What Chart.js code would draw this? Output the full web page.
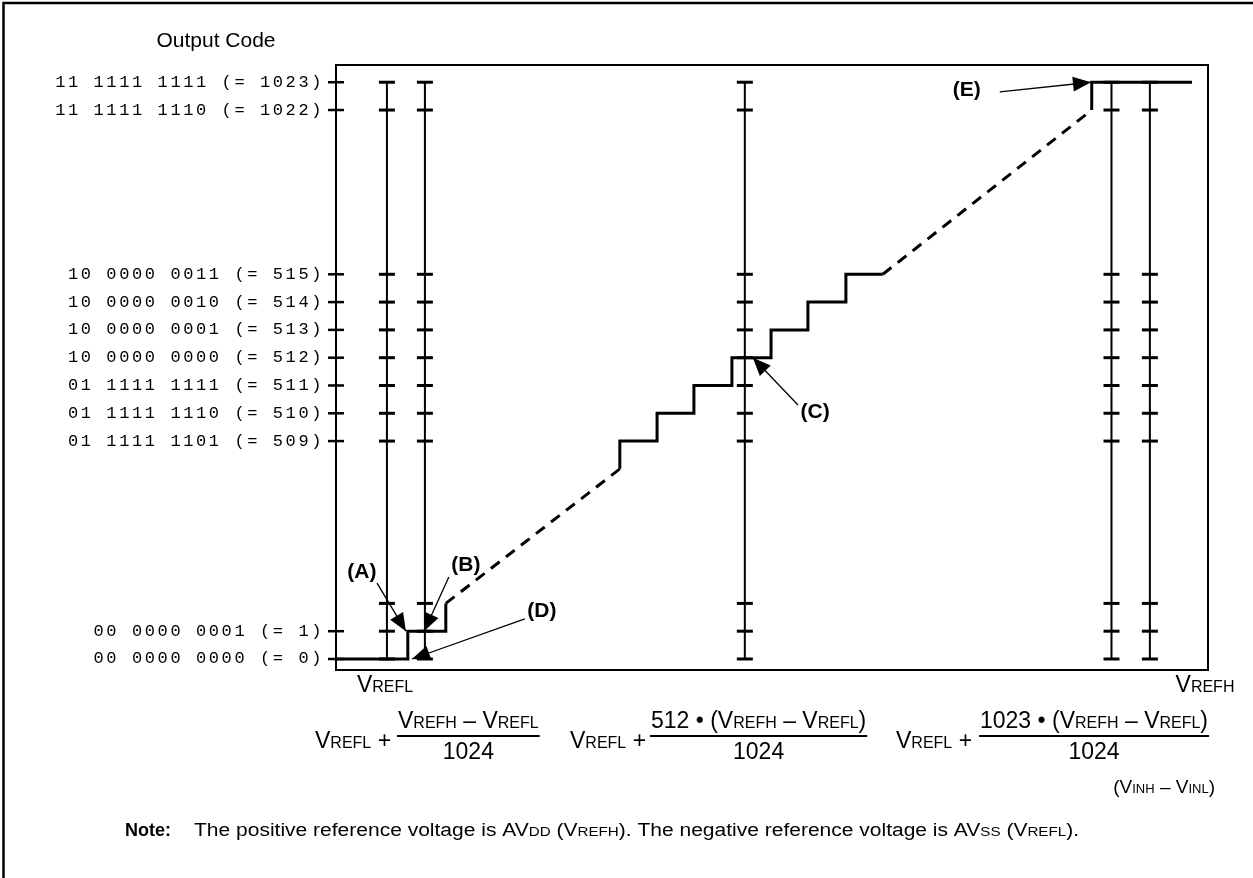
<!DOCTYPE html>
<html><head><meta charset="utf-8">
<script src="https://cdn.jsdelivr.net/npm/chart.js@4.4.1/dist/chart.umd.min.js"></script>
<style>html,body{margin:0;padding:0;background:#fff;}canvas{display:block;}</style>
</head><body>
<canvas id="c" width="1253" height="878"></canvas>
<script>
// ---------------- data ----------------
// output codes marked on the vertical axis
const codeLevels = [0, 1, 509, 510, 511, 512, 513, 514, 515, 1022, 1023];
const codeLabels = ['00 0000 0000 (= 0)', '00 0000 0001 (= 1)', '01 1111 1101 (= 509)', '01 1111 1110 (= 510)',
  '01 1111 1111 (= 511)', '10 0000 0000 (= 512)', '10 0000 0001 (= 513)', '10 0000 0010 (= 514)',
  '10 0000 0011 (= 515)', '11 1111 1110 (= 1022)', '11 1111 1111 (= 1023)'];
// codes marked on the vertical guide lines
const guideCodes = [1023, 1022, 515, 514, 513, 512, 511, 510, 509, 2, 1, 0];
// input (in LSB widths from VREFL, schematic) of the guide lines
const guideInputs = [1.34, 2.34, 10.76, 20.41, 21.42];
// transfer staircase: input where each code starts, and the code
const lowStepInputs = [0, 1.89, 2.89];
const lowStepCodes = [0, 1, 2];
const midStepInputs = [7.47, 7.47, 8.45, 9.42, 10.42, 11.45, 12.42, 13.42, 14.39];
const midStepCodes = [508, 509, 510, 511, 512, 513, 514, 515, 515];
const highStepInputs = [19.89, 19.89, 22.53];
const highStepCodes = [1022, 1023, 1023];
// dashed continuation between the drawn parts
const gapLowInputs = [2.89, 7.47];
const gapLowCodes = [2, 508];
const gapHighInputs = [14.39, 19.89];
const gapHighCodes = [515, 1022];
// callouts
const calloutNames = ['(A)', '(B)', '(C)', '(D)', '(E)'];
const calloutTipInputs = [1.84, 2.32, 10.97, 2.0, 19.87];
const calloutTipCodes = [1, 1, 512, 0, 1023];

// ---------------- scale helpers ----------------
// broken vertical axis: each group of codes is shifted to its drawn row
function row(code) { return code < 256 ? code : (code < 768 ? code - 501.16 : code - 1002.25); }
const pts = (xs, cs) => xs.map((x, i) => ({ x: x, y: row(cs[i]) }));

// callout layout (label centre and arrow tail, in axis units)
const calloutLayout = [
  { lx: 0.68, ly: 3.13, tx: 1.08, ty: 2.73 },
  { lx: 3.42, ly: 3.38, tx: 2.97, ty: 2.95 },
  { lx: 12.61, ly: 8.88, tx: 12.16, ty: 9.14 },
  { lx: 5.42, ly: 1.73, tx: 4.97, ty: 1.44 },
  { lx: 16.6, ly: 20.47, tx: 17.47, ty: 20.40 }
];

const K = '#000';
const SANS = '"Liberation Sans", Arial, Helvetica, sans-serif';
const datasets = [];
// axis tick marks crossing the left border
datasets.push({ data: codeLevels.map(c => ({ x: 0, y: row(c) })), showLine: false, pointStyle: 'line',
  pointRadius: 8, pointBorderWidth: 2.5, pointBorderColor: K, borderColor: K, clip: false });
// guide lines with tick marks
guideInputs.forEach(g => datasets.push({ data: guideCodes.map(c => ({ x: g, y: row(c) })), showLine: true,
  borderWidth: 2, borderColor: K, pointStyle: 'line', pointRadius: 8, pointBorderWidth: 3, pointBorderColor: K, clip: false }));
// staircase
[[lowStepInputs, lowStepCodes], [midStepInputs, midStepCodes], [highStepInputs, highStepCodes]].forEach(([xs, cs]) =>
  datasets.push({ data: pts(xs, cs), showLine: true, stepped: true, borderWidth: 3, borderColor: K,
    pointRadius: 0, borderCapStyle: 'butt', borderJoinStyle: 'miter', clip: false }));
// dashed parts
[[gapLowInputs, gapLowCodes], [gapHighInputs, gapHighCodes]].forEach(([xs, cs]) =>
  datasets.push({ data: pts(xs, cs), showLine: true, borderDash: [11, 8], borderWidth: 3, borderColor: K,
    pointRadius: 0, clip: false }));
// callout shafts
calloutNames.forEach((n, i) => datasets.push({ data: [{ x: calloutLayout[i].tx, y: calloutLayout[i].ty },
  { x: calloutTipInputs[i], y: row(calloutTipCodes[i]) }], showLine: true, borderWidth: 1.3, borderColor: K,
  pointRadius: 0, clip: false }));

function drawRich(ctx, parts, x, y, align, fit) {
  let w = 0;
  const ws = parts.map(([t, s, b]) => { ctx.font = (b ? 'bold ' : '') + s + 'px ' + SANS; const m = ctx.measureText(t).width; w += m; return m; });
  const sx = fit ? fit / w : 1;
  const W = w * sx;
  const start = align === 'center' ? x - W / 2 : (align === 'right' ? x - W : x);
  ctx.save();
  ctx.translate(start, y); ctx.scale(sx, 1);
  ctx.fillStyle = K; ctx.textAlign = 'left'; ctx.textBaseline = 'alphabetic';
  let cx = 0;
  parts.forEach(([t, s, b], i) => { ctx.font = (b ? 'bold ' : '') + s + 'px ' + SANS; ctx.fillText(t, cx, 0); cx += ws[i]; });
  ctx.restore();
  return W;
}

const L = 23, S = 16;
function formula(ctx, prefixX, numLeft, num) {
  const pw = drawRich(ctx, [['V', L], ['REFL', S], [' +', L]], prefixX, 748, 'left');
  let nw = 0;
  num.forEach(([t, s]) => { ctx.font = s + 'px ' + SANS; nw += ctx.measureText(t).width; });
  const c = numLeft + nw / 2;
  drawRich(ctx, num, c, 728, 'center');
  ctx.save(); ctx.strokeStyle = K; ctx.lineWidth = 2;
  ctx.beginPath(); ctx.moveTo(numLeft - 1, 736); ctx.lineTo(numLeft + nw + 1, 736); ctx.stroke(); ctx.restore();
  drawRich(ctx, [['1024', L]], c, 759, 'center');
}

const decor = {
  id: 'decor',
  beforeDraw(chart) {
    const ctx = chart.ctx;
    ctx.save(); ctx.fillStyle = '#fff'; ctx.fillRect(0, 0, chart.width, chart.height); ctx.restore();
    ctx.letterSpacing = '2.6px';
  },
  beforeDatasetsDraw(chart) { chart.ctx.letterSpacing = '0px'; },
  afterDraw(chart) {
    const ctx = chart.ctx, a = chart.chartArea, xs = chart.scales.x, ys = chart.scales.y;
    ctx.save();
    ctx.strokeStyle = K;
    // outer frame
    ctx.lineWidth = 2.5;
    ctx.beginPath(); ctx.moveTo(3.5, 878); ctx.lineTo(3.5, 3); ctx.lineTo(1253, 3); ctx.stroke();
    // plot frame
    ctx.lineWidth = 2;
    ctx.strokeRect(a.left, a.top, a.right - a.left, a.bottom - a.top);
    // arrowheads and callout labels
    ctx.fillStyle = K;
    calloutNames.forEach((n, i) => {
      const c = calloutLayout[i];
      const x0 = xs.getPixelForValue(c.tx), y0 = ys.getPixelForValue(c.ty);
      const x1 = xs.getPixelForValue(calloutTipInputs[i]), y1 = ys.getPixelForValue(row(calloutTipCodes[i]));
      const d = Math.hypot(x1 - x0, y1 - y0), ux = (x1 - x0) / d, uy = (y1 - y0) / d;
      const bx = x1 - ux * 18, by = y1 - uy * 18;
      ctx.beginPath(); ctx.moveTo(x1, y1); ctx.lineTo(bx - uy * 7.5, by + ux * 7.5); ctx.lineTo(bx + uy * 7.5, by - ux * 7.5); ctx.closePath(); ctx.fill();
      ctx.font = 'bold 21px ' + SANS; ctx.textAlign = 'center'; ctx.textBaseline = 'middle';
      ctx.fillText(n, xs.getPixelForValue(c.lx), ys.getPixelForValue(c.ly));
    });
    ctx.restore();
    // texts
    drawRich(ctx, [['Output Code', 21]], 216, 47, 'center');
    drawRich(ctx, [['V', 23], ['REFL', 16]], 385, 692, 'center');
    drawRich(ctx, [['V', 23], ['REFH', 16]], 1205, 692, 'center');
    formula(ctx, 315, 398, [['V', L], ['REFH', S], [' \u2013 V', L], ['REFL', S]]);
    formula(ctx, 570, 651, [['512 \u2022 (V', L], ['REFH', S], [' \u2013 V', L], ['REFL', S], [')', L]]);
    formula(ctx, 896, 980, [['1023 \u2022 (V', L], ['REFH', S], [' \u2013 V', L], ['REFL', S], [')', L]]);
    drawRich(ctx, [['(V', 19], ['INH', 13], [' \u2013 V', 19], ['INL', 13], [')', 19]], 1215, 793, 'right');
    drawRich(ctx, [['Note:', 18, true]], 125, 836, 'left');
    drawRich(ctx, [['The positive reference voltage is AV', 18], ['DD', 13], [' (V', 18], ['REFH', 13],
      ['). The negative reference voltage is AV', 18], ['SS', 13], [' (V', 18], ['REFL', 13], [').', 18]], 194, 836, 'left', 885);
  }
};

new Chart(document.getElementById('c'), {
  type: 'scatter',
  data: { datasets: datasets },
  options: {
    responsive: false, animation: false, devicePixelRatio: 1,
    layout: { padding: { left: 0, top: 65, right: 45, bottom: 208 } },
    plugins: { legend: { display: false }, tooltip: { enabled: false }, title: { display: false } },
    elements: { line: { tension: 0 } },
    scales: {
      x: { type: 'linear', min: 0, max: 22.95, display: false },
      y: {
        type: 'linear', min: -0.396, max: 21.37,
        afterFit(s) { s.width = 336; },
        afterBuildTicks(s) { s.ticks = codeLevels.map(c => ({ value: row(c) })); },
        grid: { display: false, drawTicks: false },
        border: { display: false },
        ticks: { autoSkip: false, padding: 12, color: K, font: { family: '"Liberation Mono", "Courier New", monospace', size: 17 },
          callback: (v, i) => codeLabels[i] }
      }
    }
  },
  plugins: [decor]
});
</script>
</body></html>
